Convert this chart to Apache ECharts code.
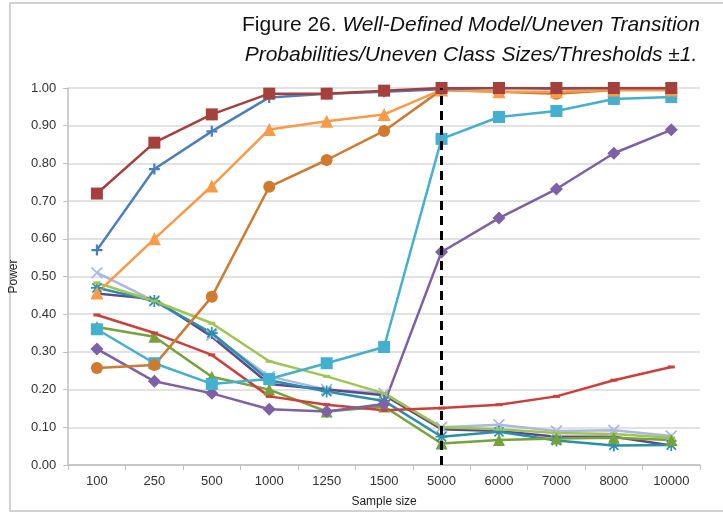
<!DOCTYPE html>
<html>
<head>
<meta charset="utf-8">
<script src="https://cdn.jsdelivr.net/npm/echarts@6/dist/echarts.min.js"></script>
<style>
  html, body { margin: 0; padding: 0; background: #fff; }
  #chart { width: 723px; height: 514px; }
</style>
</head>
<body>
<div id="chart"></div>
<script>
// Sample sizes along the x axis
const sampleSizes = ['100', '250', '500', '1000', '1250', '1500', '5000', '6000', '7000', '8000', '10000'];
const yTicks = [0, 0.1, 0.2, 0.3, 0.4, 0.5, 0.6, 0.7, 0.8, 0.9, 1.0];

// Power per sample size, one array per condition
const darkRedSquares   = [0.72, 0.855, 0.93, 0.985, 0.985, 0.993, 1.0, 1.0, 1.0, 1.0, 1.0];
const bluePlus         = [0.57, 0.785, 0.885, 0.975, 0.985, 0.99, 0.997, 1.0, 0.998, 1.0, 1.0];
const orangeTriangles  = [0.456, 0.60, 0.74, 0.89, 0.912, 0.93, 0.995, 0.99, 0.99, 0.995, 0.995];
const darkOrangeDots   = [0.257, 0.265, 0.446, 0.738, 0.809, 0.886, 0.995, 0.99, 0.985, 0.995, 0.995];
const aquaSquares      = [0.36, 0.27, 0.215, 0.228, 0.27, 0.313, 0.865, 0.923, 0.939, 0.971, 0.976];
const purpleDiamonds   = [0.308, 0.222, 0.19, 0.148, 0.142, 0.162, 0.565, 0.655, 0.732, 0.827, 0.889];
const redDashes        = [0.398, 0.35, 0.292, 0.182, 0.16, 0.145, 0.151, 0.16, 0.182, 0.225, 0.26];
const oliveTriangles   = [0.366, 0.34, 0.234, 0.2, 0.142, 0.155, 0.057, 0.066, 0.07, 0.072, 0.066];
const limeDashes       = [0.483, 0.435, 0.376, 0.275, 0.235, 0.19, 0.1, 0.095, 0.085, 0.082, 0.072];
const tealStars        = [0.47, 0.435, 0.35, 0.225, 0.195, 0.17, 0.075, 0.088, 0.065, 0.052, 0.053];
const violetLine       = [0.455, 0.44, 0.34, 0.215, 0.2, 0.185, 0.095, 0.09, 0.075, 0.075, 0.052];
const lavenderCrosses  = [0.51, 0.435, 0.345, 0.235, 0.2, 0.19, 0.1, 0.107, 0.09, 0.092, 0.077];

// Marker shapes
const PLUS = 'path://M4,0H6V4H10V6H6V10H4V6H0V4H4Z';
const CROSS = 'path://M1,0L5,4L9,0L10,1L6,5L10,9L9,10L5,6L1,10L0,9L4,5L0,1Z';
const STAR = 'path://M4.3,0H5.7V3.3L8.3,0.7L9.3,1.7L6.7,4.3H10V5.7H6.7L9.3,8.3L8.3,9.3L5.7,6.7V10H4.3V6.7L1.7,9.3L0.7,8.3L3.3,5.7H0V4.3H3.3L0.7,1.7L1.7,0.7L4.3,3.3Z';
const DASH = 'path://M0,0H10V3H0Z';

function line(name, data, color, symbol, size, extra) {
  return Object.assign({
    name: name,
    type: 'line',
    data: data,
    symbol: symbol,
    symbolSize: size,
    showSymbol: true,
    lineStyle: { color: color, width: 2.5 },
    itemStyle: { color: color },
    emphasis: { disabled: true },
    animation: false
  }, extra || {});
}

const chart = echarts.init(document.getElementById('chart'));
chart.setOption({
  backgroundColor: '#fff',
  textStyle: { fontFamily: 'Liberation Sans, Arial, sans-serif' },
  title: {
    text: '{n|Figure 26. }{i|Well-Defined Model/Uneven Transition}\n{i|Probabilities/Uneven Class Sizes/Thresholds ±1.}',
    left: 466,
    top: 5,
    textAlign: 'center',
    textStyle: {
      fontWeight: 'normal',
      rich: {
        n: { fontSize: 21, color: '#111', fontWeight: 'normal', fontFamily: 'Liberation Sans', lineHeight: 30 },
        i: { fontSize: 21, color: '#111', fontWeight: 'normal', fontStyle: 'italic', fontFamily: 'Liberation Sans', lineHeight: 30 }
      }
    }
  },
  graphic: [{
    type: 'rect',
    shape: { x: 10, y: 3, width: 740, height: 508 },
    style: { fill: 'none', stroke: '#c4c4c4', lineWidth: 1.5 },
    silent: true
  }],
  grid: { left: 67, right: 23, top: 88, bottom: 49 },
  xAxis: {
    type: 'category',
    data: sampleSizes,
    boundaryGap: true,
    name: 'Sample size',
    nameLocation: 'middle',
    nameGap: 31,
    nameTextStyle: { fontSize: 12, color: '#222' },
    axisLine: { lineStyle: { color: '#bfbfbf', width: 1.5 } },
    axisTick: { show: true, length: 5, alignWithLabel: false, lineStyle: { color: '#bfbfbf' } },
    axisLabel: { fontSize: 13, color: '#333', margin: 10 },
    splitLine: { show: false }
  },
  yAxis: {
    type: 'value',
    min: yTicks[0],
    max: yTicks[yTicks.length - 1],
    interval: 0.1,
    name: 'Power',
    nameLocation: 'middle',
    nameGap: 40,
    nameTextStyle: { fontSize: 12, color: '#222' },
    axisLine: { show: true, lineStyle: { color: '#bfbfbf', width: 1.5 } },
    axisTick: { show: true, length: 5, lineStyle: { color: '#bfbfbf' } },
    axisLabel: { fontSize: 13, color: '#333', margin: 12, formatter: v => v.toFixed(2) },
    splitLine: { lineStyle: { color: '#d9d9d9', width: 1.5 } }
  },
  series: [
    line('lavender', lavenderCrosses, '#a9b8df', CROSS, 12),
    line('violet', violetLine, '#5d4a8c', 'none', 1),
    line('teal', tealStars, '#2a8fab', STAR, 12),
    line('lime', limeDashes, '#9fc54e', DASH, [7, 3]),
    line('olive', oliveTriangles, '#76a23a', 'triangle', 12),
    line('red', redDashes, '#cc3f3b', DASH, [7, 3]),
    line('purple', purpleDiamonds, '#7e60a6', 'diamond', 13),
    line('aqua', aquaSquares, '#44b0cf', 'rect', 12),
    line('darkOrange', darkOrangeDots, '#d07a2f', 'circle', 12),
    line('orange', orangeTriangles, '#f99a47', 'triangle', 13),
    line('blue', bluePlus, '#4a7ebd', PLUS, 11),
    line('darkRed', darkRedSquares, '#a5403d', 'rect', 12, {
      markLine: {
        silent: true,
        symbol: 'none',
        label: { show: false },
        lineStyle: { color: '#000', type: [9, 6], width: 3 },
        data: [[{ coord: ['5000', 0] }, { coord: ['5000', 1] }]]
      }
    })
  ]
});
</script>
</body>
</html>
